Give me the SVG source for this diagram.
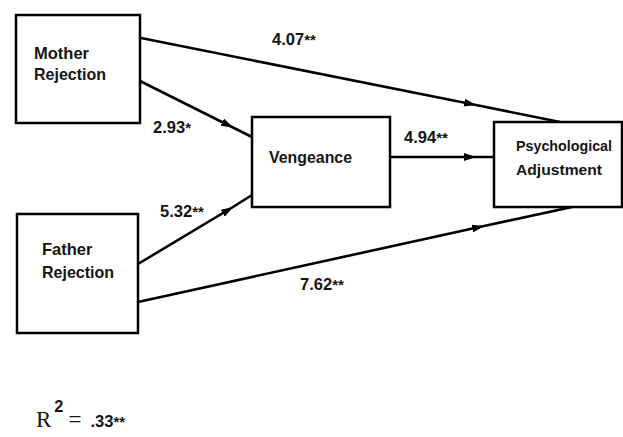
<svg xmlns="http://www.w3.org/2000/svg" width="623" height="437" viewBox="0 0 623 437">
<style>
.box{fill:#fff;stroke:#000;stroke-width:2.5}
.edge{fill:none;stroke:#000;stroke-width:2.6}
.t{font-family:"Liberation Sans",Arial,sans-serif;font-weight:bold;font-size:16.5px;fill:#151515}
.ps{font-size:15.5px}
.lbl{font-family:"Liberation Sans",Arial,sans-serif;font-weight:bold;font-size:16.5px;fill:#151515}
.st{font-size:15px}
.serif{font-family:"Liberation Serif","Times New Roman",serif;font-size:23px;fill:#151515}
</style>
<defs>
<marker id="ah" viewBox="0 0 12 8" refX="12" refY="4" markerWidth="12" markerHeight="8" markerUnits="userSpaceOnUse" orient="auto">
<path d="M0,0 L12,4 L0,8 Z" fill="#000"/>
</marker>
</defs>
<rect width="623" height="437" fill="#fff"/>
<g id="connectors">
<path class="edge" d="M141,38 L476,105 L560,122" marker-mid="url(#ah)"/>
<path class="edge" d="M140,81 L233,127.5 L252,137" marker-mid="url(#ah)"/>
<path class="edge" d="M138,264 L233,207 L252,195" marker-mid="url(#ah)"/>
<path class="edge" d="M138,302 L484,226 L572,207" marker-mid="url(#ah)"/>
<path class="edge" d="M390,157 L476,157 L494,157" marker-mid="url(#ah)"/>
</g>
<g id="mother">
<rect class="box" x="16" y="15" width="124" height="108"/>
<text class="t" x="34" y="58.5">Mother</text>
<text class="t" x="34" y="80" textLength="72" lengthAdjust="spacingAndGlyphs">Rejection</text>
</g>
<g id="father">
<rect class="box" x="17" y="214" width="121" height="119"/>
<text class="t" x="42" y="255">Father</text>
<text class="t" x="42" y="278" textLength="72" lengthAdjust="spacingAndGlyphs">Rejection</text>
</g>
<g id="vengeance">
<rect class="box" x="252" y="117" width="138" height="90"/>
<text class="t" x="269" y="163" textLength="83" lengthAdjust="spacingAndGlyphs">Vengeance</text>
</g>
<g id="psych">
<rect class="box" x="494" y="122" width="128" height="85"/>
<text class="t ps" x="516" y="151" textLength="96" lengthAdjust="spacingAndGlyphs">Psychological</text>
<text class="t ps" x="516" y="175" textLength="86" lengthAdjust="spacingAndGlyphs">Adjustment</text>
</g>
<g id="labels">
<text class="lbl" x="272" y="45">4.07<tspan class="st">**</tspan></text>
<text class="lbl" x="153" y="133">2.93<tspan class="st">*</tspan></text>
<text class="lbl" x="160" y="217">5.32<tspan class="st">**</tspan></text>
<text class="lbl" x="404" y="143">4.94<tspan class="st">**</tspan></text>
<text class="lbl" x="300" y="290">7.62<tspan class="st">**</tspan></text>
<text x="36" y="427"><tspan class="serif">R</tspan><tspan class="lbl" dx="3" dy="-15">2</tspan><tspan class="serif" dx="5" dy="15">=</tspan><tspan class="lbl" dx="9">.33</tspan><tspan class="lbl st">**</tspan></text>
</g>
</svg>
